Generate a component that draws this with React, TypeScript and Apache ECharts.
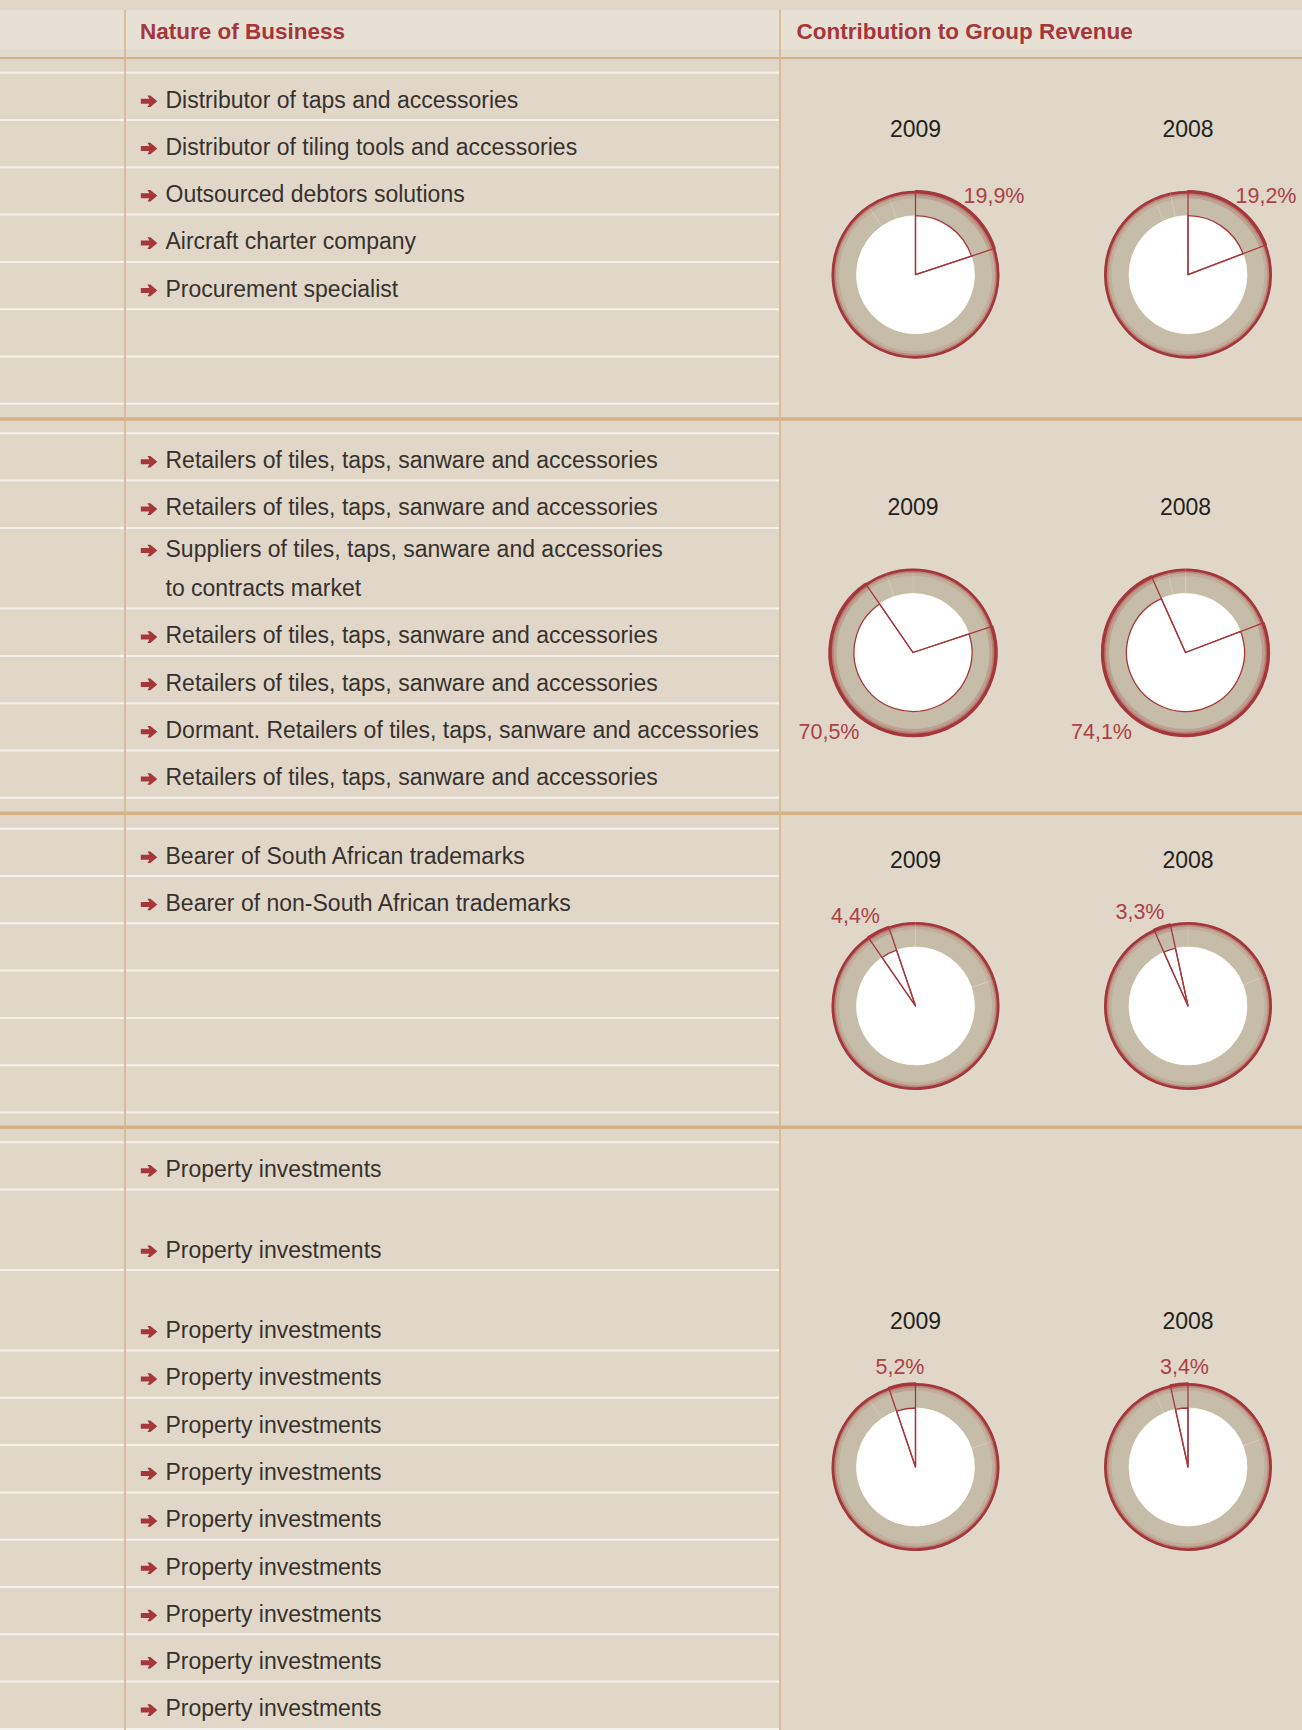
import React, { useEffect, useRef } from "react";
import * as echarts from "echarts";

// ---------------- DATA ----------------
const years = ["2009", "2008"];
const segmentNames = ["Segment 1", "Segment 2", "Segment 3", "Segment 4"];
const contribution2009 = [19.9, 70.5, 4.4, 5.2];
const contribution2008 = [19.2, 74.1, 3.3, 3.4];

const headerLeft = "Nature of Business";
const headerRight = "Contribution to Group Revenue";

const section1Items = [
  "Distributor of taps and accessories",
  "Distributor of tiling tools and accessories",
  "Outsourced debtors solutions",
  "Aircraft charter company",
  "Procurement specialist",
  "",
  "",
];
const section2Items = [
  "Retailers of tiles, taps, sanware and accessories",
  "Retailers of tiles, taps, sanware and accessories",
  "Suppliers of tiles, taps, sanware and accessories\nto contracts market",
  "Retailers of tiles, taps, sanware and accessories",
  "Retailers of tiles, taps, sanware and accessories",
  "Dormant. Retailers of tiles, taps, sanware and accessories",
  "Retailers of tiles, taps, sanware and accessories",
];
const section3Items = [
  "Bearer of South African trademarks",
  "Bearer of non-South African trademarks",
  "",
  "",
  "",
  "",
];
const section4Items = [
  "Property investments",
  "Property investments",
  "Property investments",
  "Property investments",
  "Property investments",
  "Property investments",
  "Property investments",
  "Property investments",
  "Property investments",
  "Property investments",
  "Property investments",
];
const sectionItems = [section1Items, section2Items, section3Items, section4Items];
const yearValues = [contribution2009, contribution2008];

// ---------------- LAYOUT ----------------
const PAGE_W = 1302;
const PAGE_H = 1730;
const UNIT = 47.3;
const COL1_X = 125;
const COL2_X = 780;
const ARROW_X = 140.8;
const TEXT_X = 165.5;
const PIE_X = [915.5, 1188];
const R_OUT = 84;
const R_IN = 59;

const sectionLayout = [
  { top: 72.7, spans: [1, 1, 1, 1, 1, 1, 1], rule: 419, pieY: 274.7, pieShift: 0, labelOffsets: [[78.5, -79.2], [78, -79.2]] },
  { top: 433.3, spans: [1, 1, 1.706, 1, 1, 1, 1], rule: 813.3, pieY: 652.5, pieShift: -2.5, labelOffsets: [[-84, 79.5], [-84, 79.5]] },
  { top: 828.7, spans: [1, 1, 1, 1, 1, 1], rule: 1127.3, pieY: 1006, pieShift: 0, labelOffsets: [[-60, -90], [-48, -94.5]] },
  { top: 1142.2, spans: [1, 1.704, 1.7, 1, 1, 1, 1, 1, 1, 1, 1], rule: null as number | null, pieY: 1467, pieShift: 0, labelOffsets: [[-15.5, -100], [-3.5, -100]] },
];

// ---------------- STYLE ----------------
const BG = "#e0d7c8";
const HEADER_BG = "#e7e0d4";
const HEADER_BG2 = "#e3dbcd";
const TAN = "#d3b185";
const TAN_V = "#d9b88e";
const WHITE_LINE = "#f5f1eb";
const RED = "#a5363a";
const LABEL_RED = "#ad4145";
const TEXT = "#37312e";
const RING = "#c6bda8";
const FONT = '"Liberation Sans", Arial, sans-serif';

function fmtPct(v: number) {
  return v.toFixed(1).replace(".", ",") + "%";
}

function arrowPoints(cy: number) {
  const x = ARROW_X;
  return [
    [x, cy - 2.5],
    [x + 8.6, cy - 2.5],
    [x + 6.6, cy - 5.8],
    [x + 9.6, cy - 5.8],
    [x + 16.5, cy],
    [x + 9.6, cy + 5.8],
    [x + 6.6, cy + 5.8],
    [x + 8.6, cy + 2.5],
    [x, cy + 2.5],
  ];
}

function buildGraphic() {
  const els: any[] = [];
  els.push({ type: "rect", z: 0, silent: true, shape: { x: 0, y: 0, width: PAGE_W, height: PAGE_H }, style: { fill: BG } });
  els.push({ type: "rect", z: 0, silent: true, shape: { x: 0, y: 10, width: PAGE_W, height: 39.3 }, style: { fill: HEADER_BG } });
  els.push({ type: "rect", z: 0, silent: true, shape: { x: 0, y: 49.3, width: PAGE_W, height: 7.7 }, style: { fill: HEADER_BG2 } });
  els.push({ type: "line", z: 1, silent: true, shape: { x1: 0, y1: 58, x2: PAGE_W, y2: 58 }, style: { stroke: TAN, lineWidth: 2 } });

  sectionLayout.forEach((sec, si) => {
    let y = sec.top;
    const items = sectionItems[si];
    els.push({ type: "line", z: 1, silent: true, shape: { x1: 0, y1: y, x2: COL2_X, y2: y }, style: { stroke: WHITE_LINE, lineWidth: 2 } });
    sec.spans.forEach((span, ri) => {
      const bottom = y + span * UNIT;
      els.push({ type: "line", z: 1, silent: true, shape: { x1: 0, y1: bottom, x2: COL2_X, y2: bottom }, style: { stroke: WHITE_LINE, lineWidth: 2 } });
      const txt = items[ri] || "";
      if (txt) {
        const lines = txt.split("\n");
        const n = lines.length;
        lines.forEach((ln, li) => {
          const ty = bottom - 20.5 - (n - 1 - li) * 39.3;
          els.push({
            type: "text",
            z: 5,
            silent: true,
            style: {
              text: ln,
              x: TEXT_X,
              y: ty,
              fill: TEXT,
              fontSize: 23,
              fontFamily: FONT,
              fontWeight: "normal",
              textAlign: "left",
              textVerticalAlign: "middle",
              align: "left",
              verticalAlign: "middle",
            },
          });
          if (li === 0) {
            els.push({ type: "polygon", z: 5, silent: true, shape: { points: arrowPoints(ty + 1.7) }, style: { fill: RED } });
          }
        });
      }
      y = bottom;
    });
    if (sec.rule !== null) {
      els.push({ type: "line", z: 1, silent: true, shape: { x1: 0, y1: sec.rule, x2: PAGE_W, y2: sec.rule }, style: { stroke: TAN, lineWidth: 3.4 } });
    }

    // year titles and percentage labels
    years.forEach((yr, yi) => {
      const cx = PIE_X[yi] + sec.pieShift;
      els.push({
        type: "text",
        z: 10,
        silent: true,
        style: {
          text: yr,
          x: cx,
          y: sec.pieY - 146,
          fill: "#231f20",
          fontSize: 23,
          fontFamily: FONT,
          textAlign: "center",
          textVerticalAlign: "middle",
          align: "center",
          verticalAlign: "middle",
        },
      });
      const off = sec.labelOffsets[yi];
      els.push({
        type: "text",
        z: 10,
        silent: true,
        style: {
          text: fmtPct(yearValues[yi][si]),
          x: cx + off[0],
          y: sec.pieY + off[1],
          fill: LABEL_RED,
          fontSize: 21.5,
          fontFamily: FONT,
          textAlign: "center",
          textVerticalAlign: "middle",
          align: "center",
          verticalAlign: "middle",
        },
      });
    });
  });

  // vertical column rules
  els.push({ type: "line", z: 2, silent: true, shape: { x1: COL1_X, y1: 10, x2: COL1_X, y2: PAGE_H }, style: { stroke: TAN_V, lineWidth: 1.8 } });
  els.push({ type: "line", z: 2, silent: true, shape: { x1: COL2_X, y1: 10, x2: COL2_X, y2: PAGE_H }, style: { stroke: TAN_V, lineWidth: 1.8 } });

  // headers
  els.push({
    type: "text", z: 5, silent: true,
    style: { text: headerLeft, x: 140, y: 31, fill: RED, fontSize: 22.5, fontWeight: "bold", fontFamily: FONT, textAlign: "left", textVerticalAlign: "middle", align: "left", verticalAlign: "middle" },
  });
  els.push({
    type: "text", z: 5, silent: true,
    style: { text: headerRight, x: 796.5, y: 31, fill: RED, fontSize: 22.5, fontWeight: "bold", fontFamily: FONT, textAlign: "left", textVerticalAlign: "middle", align: "left", verticalAlign: "middle" },
  });
  return els;
}

function pieSeries(values: number[], cx: number, cy: number, hi: number) {
  const base = {
    type: "pie",
    center: [cx, cy],
    silent: true,
    label: { show: false },
    labelLine: { show: false },
    emphasis: { disabled: true },
    avoidLabelOverlap: false,
    startAngle: 90,
    clockwise: true,
  };
  const data = (style: (i: number) => any) =>
    values.map((v, i) => ({ value: v, name: segmentNames[i], itemStyle: style(i) }));
  const out: any[] = [];
  out.push({ ...base, z: 2, radius: [R_IN, R_OUT], data: data(() => ({ color: RING, borderColor: "rgba(236,230,218,0.3)", borderWidth: 0.7 })) });
  out.push({ ...base, z: 3, radius: [R_OUT - 7.5, R_OUT - 2.5], data: data((i) => ({ color: i === hi ? "rgba(166,56,60,0.22)" : "rgba(166,56,60,0.12)", borderWidth: 0 })) });
  out.push({ ...base, z: 3, radius: [R_OUT - 4.5, R_OUT - 2.5], data: data(() => ({ color: "rgba(166,56,60,0.3)", borderWidth: 0 })) });
  out.push({ ...base, z: 4, radius: [R_OUT - 2.8, R_OUT], data: data(() => ({ color: RED, borderWidth: 0 })) });
  out.push({ ...base, z: 4, radius: [0, R_IN], data: data(() => ({ color: "#ffffff", borderColor: "#ffffff", borderWidth: 0.6 })) });
  const outline = (i: number) =>
    i === hi
      ? { color: "rgba(0,0,0,0)", borderColor: RED, borderWidth: 1.3 }
      : { color: "rgba(0,0,0,0)", borderWidth: 0 };
  out.push({ ...base, z: 6, radius: [0, R_IN], data: data(outline) });
  out.push({ ...base, z: 6, radius: [0, R_OUT], data: data(outline) });
  return out;
}

function buildSeries() {
  const all: any[] = [];
  sectionLayout.forEach((sec, si) => {
    yearValues.forEach((vals, yi) => {
      all.push(...pieSeries(vals, PIE_X[yi] + sec.pieShift, sec.pieY, si));
    });
  });
  return all;
}

export default function App() {
  const ref = useRef<HTMLDivElement>(null);
  useEffect(() => {
    document.body.style.margin = "0";
    if (!ref.current) return;
    const chart = echarts.init(ref.current, undefined, { renderer: "svg", width: PAGE_W, height: PAGE_H });
    chart.setOption({
      animation: false,
      backgroundColor: BG,
      graphic: { elements: buildGraphic() },
      series: buildSeries(),
    });
    return () => chart.dispose();
  }, []);
  return <div ref={ref} style={{ width: PAGE_W, height: PAGE_H }} />;
}
